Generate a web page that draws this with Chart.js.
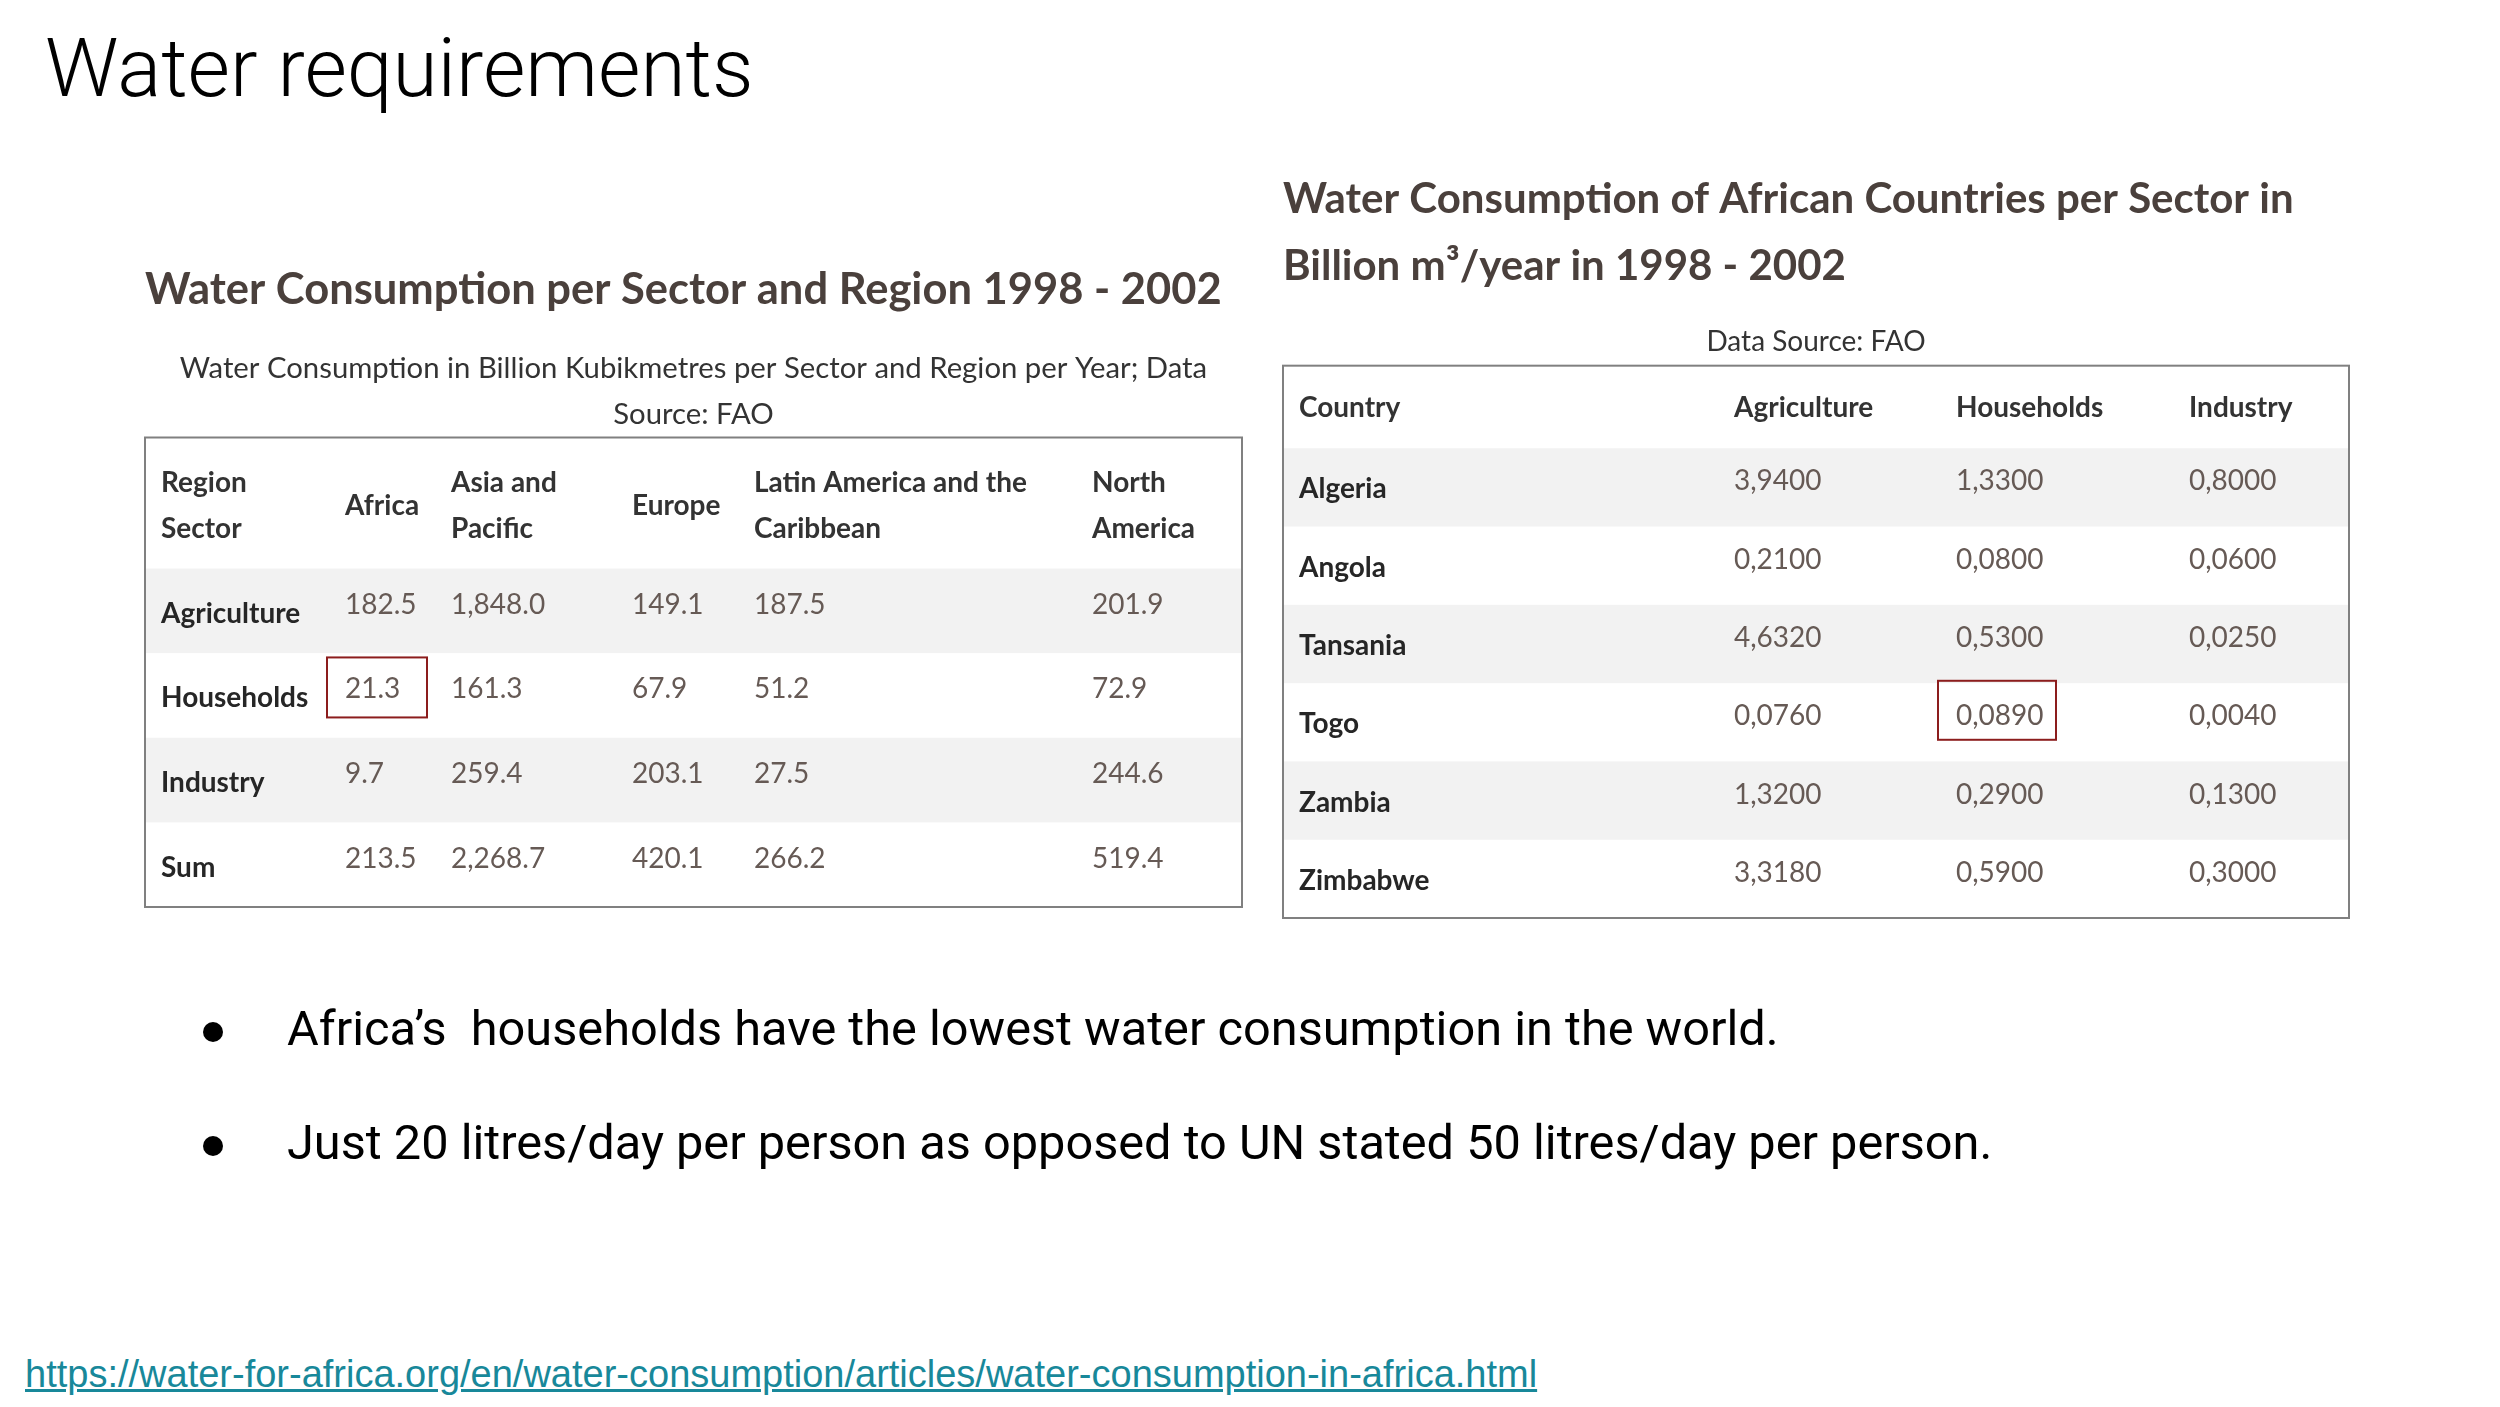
<!DOCTYPE html>
<html>
<head>
<meta charset="utf-8">
<title>Water requirements</title>
<script src="https://cdn.jsdelivr.net/npm/chart.js@4.4.1/dist/chart.umd.min.js"></script>
<style>
  html, body { margin: 0; padding: 0; background: #fff; }
  body { width: 2500px; height: 1407px; position: relative; overflow: hidden; }
  .slideTitle {
    position: absolute; left: 45px; top: 27px; margin: 0;
    font: 300 82px/1 Roboto, sans-serif; color: #000; white-space: nowrap;
  }
  .wrap { position: absolute; }
  #leftWrap { left: 140px; top: 240px; width: 1106px; height: 672px; }
  #rightWrap { left: 1280px; top: 150px; width: 1073px; height: 772px; }
  .bullet {
    position: absolute; left: 287px; margin: 0;
    font: 400 48.7px/1 Roboto, sans-serif; color: #000; white-space: pre;
  }
  .bullet::before {
    content: ""; position: absolute; left: -84px; top: 17px;
    width: 20px; height: 20px; border-radius: 50%; background: #000;
  }
  .source {
    position: absolute; left: 25px; top: 1355px;
    font: 400 38px/1 "Liberation Sans", Arial, sans-serif; color: #18889a;
    text-decoration: underline; white-space: nowrap;
  }
</style>
</head>
<body>
<h1 class="slideTitle">Water requirements</h1>

<div class="wrap" id="leftWrap"><canvas id="regionChart"></canvas></div>
<div class="wrap" id="rightWrap"><canvas id="countryChart"></canvas></div>

<p class="bullet" style="top:1005px">Africa’s  households have the lowest water consumption in the world.</p>
<p class="bullet" style="top:1119px">Just 20 litres/day per person as opposed to UN stated 50 litres/day per person.</p>

<a class="source" href="https://water-for-africa.org/en/water-consumption/articles/water-consumption-in-africa.html">https://water-for-africa.org/en/water-consumption/articles/water-consumption-in-africa.html</a>

<script>
// ---- data: left table (billion m3 per sector and region, 1998 - 2002)
const regions = ["Africa", "Asia and Pacific", "Europe", "Latin America and the Caribbean", "North America"];
const regionHeaders = [["Africa"], ["Asia and", "Pacific"], ["Europe"], ["Latin America and the", "Caribbean"], ["North", "America"]];
const sectors = ["Agriculture", "Households", "Industry", "Sum"];
const agriculture = [182.5, 1848.0, 149.1, 187.5, 201.9];
const households = [21.3, 161.3, 67.9, 51.2, 72.9];
const industry = [9.7, 259.4, 203.1, 27.5, 244.6];
const sums = [213.5, 2268.7, 420.1, 266.2, 519.4];

// ---- data: right table (African countries, billion m3/year)
const countries = ["Algeria", "Angola", "Tansania", "Togo", "Zambia", "Zimbabwe"];
const countrySectors = ["Agriculture", "Households", "Industry"];
const agriCountry = [3.94, 0.21, 4.632, 0.076, 1.32, 3.318];
const houseCountry = [1.33, 0.08, 0.53, 0.089, 0.29, 0.59];
const industryCountry = [0.8, 0.06, 0.025, 0.004, 0.13, 0.3];

// ---- table layout (column widths in px of the table box)
const regionColWidths = [184, 106, 181, 122, 338, 166];
const countryColWidths = [435, 222, 233, 176];
const cellPad = 16;

const HEAD_COLOR = "#4a403c";
const fmtRegion = (v) => v.toFixed(1).replace(/\B(?=(\d{3})+(?!\d))/g, ",");
const fmtCountry = (v) => v.toFixed(4).replace(".", ",");

const colStarts = (widths) => {
  let acc = 0;
  return widths.map((w) => { const s = acc; acc += w; return s; });
};

// draws stripes, header, cells, highlight and the border of a table
const tablePlugin = {
  id: "tableCells",
  beforeDatasetsDraw(chart, args, opts) {
    const { ctx, chartArea: a, scales: { y } } = chart;
    const labels = y.getLabels();
    const rowH = (a.bottom - a.top) / labels.length;
    ctx.save();
    ctx.fillStyle = "#f2f2f2";
    labels.forEach((lab, i) => {
      if (i % 2 === 0) {
        const cy = y.getPixelForValue(i);
        ctx.fillRect(a.left, cy - rowH / 2, a.right - a.left, rowH);
      }
    });
    ctx.restore();
  },
  afterDatasetsDraw(chart, args, opts) {
    const { ctx, chartArea: a, scales: { y } } = chart;
    const top = a.top - opts.headerHeight;
    const hy = top + opts.headerHeight / 2 + opts.headerShift;
    ctx.save();
    ctx.textAlign = "left";
    ctx.textBaseline = "middle";

    const drawLines = (lines, x, cy) => {
      lines.forEach((line, k) => {
        ctx.fillText(line, x, cy + (k - (lines.length - 1) / 2) * opts.headerLineGap);
      });
    };

    // header row
    ctx.font = "bold 28px Lato";
    ctx.fillStyle = "#333333";
    drawLines(opts.corner, a.left + cellPad, hy);
    chart.data.datasets.forEach((ds, di) => {
      const meta = chart.getDatasetMeta(di);
      drawLines(ds.header, meta.data[0].x, hy);
    });

    // row labels
    ctx.fillStyle = "#262626";
    y.getLabels().forEach((lab, i) => {
      ctx.fillText(lab, a.left + cellPad, y.getPixelForValue(i) + opts.labelShift);
    });

    // values
    ctx.font = "28px Lato";
    ctx.fillStyle = "#665a55";
    chart.data.datasets.forEach((ds, di) => {
      const meta = chart.getDatasetMeta(di);
      meta.data.forEach((pt, i) => {
        ctx.fillText(opts.format(ds.data[i].v), pt.x, pt.y + opts.valueShift);
      });
    });

    // highlighted cell
    const h = opts.highlight;
    const hp = chart.getDatasetMeta(h.dataset).data[h.index];
    ctx.strokeStyle = "#8c1d1d";
    ctx.lineWidth = 2;
    ctx.strokeRect(hp.x - 18, hp.y + h.shift - h.height / 2, h.width, h.height);

    // outer border
    ctx.strokeStyle = "#808080";
    ctx.lineWidth = 2;
    ctx.strokeRect(a.left, top, a.right - a.left, a.bottom - top);
    ctx.restore();
  },
};

function makeTable(canvasId, cfg) {
  const starts = colStarts(cfg.widths);
  const total = cfg.widths.reduce((s, w) => s + w, 0);
  const datasets = cfg.columns.map((col, c) => ({
    label: col.name,
    header: col.header,
    data: cfg.rows.map((row, r) => ({ x: starts[c + 1] + cellPad, y: row, v: col.values[r] })),
    pointRadius: 0,
  }));
  return new Chart(document.getElementById(canvasId), {
    type: "scatter",
    data: { datasets },
    options: {
      responsive: true,
      maintainAspectRatio: false,
      animation: false,
      events: [],
      layout: { padding: cfg.padding },
      scales: {
        x: { type: "linear", min: 0, max: total, display: false },
        y: { type: "category", labels: cfg.rows, offset: true, display: false },
      },
      plugins: {
        legend: { display: false },
        tooltip: { enabled: false },
        title: {
          display: true,
          text: cfg.title,
          align: "start",
          color: HEAD_COLOR,
          font: { family: "Lato", weight: "bold", size: cfg.titleSize, lineHeight: cfg.titleLine },
          padding: cfg.titlePad,
        },
        subtitle: {
          display: true,
          text: cfg.subtitle,
          align: "center",
          color: "#333333",
          font: { family: "Lato", size: cfg.subSize, lineHeight: cfg.subLine },
          padding: cfg.subPad,
        },
        tableCells: {
          headerHeight: cfg.headerHeight,
          headerShift: cfg.headerShift,
          headerLineGap: 46.7,
          corner: cfg.corner,
          labelShift: cfg.labelShift,
          valueShift: -6,
          format: cfg.format,
          highlight: cfg.highlight,
        },
      },
    },
    plugins: [tablePlugin],
  });
}

const regionChart = makeTable("regionChart", {
  title: "Water Consumption per Sector and Region 1998 - 2002",
  titleSize: 43.5,
  titleLine: 1.2,
  titlePad: { top: 23.7, bottom: 28.6 },
  subtitle: ["Water Consumption in Billion Kubikmetres per Sector and Region per Year; Data", "Source: FAO"],
  subSize: 29.3,
  subLine: 1.57,
  subPad: { top: 1.5, bottom: 130.5 },
  padding: { left: 5, right: 4, top: 0, bottom: 5 },
  headerHeight: 131,
  headerShift: 3,
  corner: ["Region", "Sector"],
  rows: sectors,
  widths: regionColWidths,
  columns: regions.map((name, c) => ({
    name,
    header: regionHeaders[c],
    values: [agriculture[c], households[c], industry[c], sums[c]],
  })),
  format: fmtRegion,
  labelShift: 3,
  highlight: { dataset: 0, index: 1, width: 100, height: 60, shift: -8 },
});

const countryChart = makeTable("countryChart", {
  title: ["Water Consumption of African Countries per Sector in", "Billion m³/year in 1998 - 2002"],
  titleSize: 42,
  titleLine: 1.595,
  titlePad: { top: 16.3, bottom: 23.9 },
  subtitle: "Data Source: FAO",
  subSize: 28,
  subLine: 1.2,
  subPad: { top: 1, bottom: 89.5 },
  padding: { left: 3, right: 4, top: 0, bottom: 4 },
  headerHeight: 82.6,
  headerShift: 1,
  corner: ["Country"],
  rows: countries,
  widths: countryColWidths,
  columns: [
    { name: countrySectors[0], header: [countrySectors[0]], values: agriCountry },
    { name: countrySectors[1], header: [countrySectors[1]], values: houseCountry },
    { name: countrySectors[2], header: [countrySectors[2]], values: industryCountry },
  ],
  format: fmtCountry,
  labelShift: 2,
  highlight: { dataset: 1, index: 3, width: 118, height: 59, shift: -12 },
});
</script>
</body>
</html>
